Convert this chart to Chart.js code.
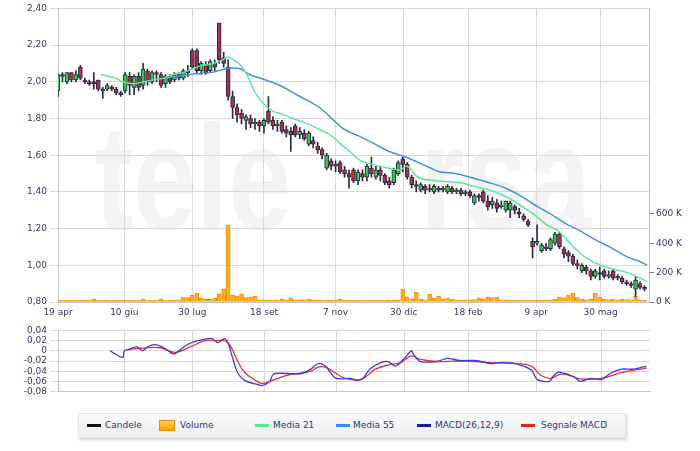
<!DOCTYPE html>
<html>
<head>
<meta charset="utf-8">
<script src="https://cdn.jsdelivr.net/npm/chart.js@4/dist/chart.umd.min.js"></script>
<style>
    body { margin: 0; background: #fff; }
    #wrap { position: relative; width: 700px; height: 451px; overflow: hidden; font-family: "DejaVu Sans", Verdana, sans-serif; }
    #main { position: absolute; left: 0; top: 0; }
    #macd { position: absolute; left: 0; top: 322px; }
    .legend { position: absolute; left: 78px; top: 413px; width: 546px; height: 23px;
        background: linear-gradient(#f9fafb, #eceef1); border: 1px solid #e2e4e8;
        box-shadow: 1px 2px 3px rgba(0,0,0,0.18); }
    .item { position: absolute; top: 0; height: 23px; line-height: 23px; font-size: 9px; color: #33337a; white-space: nowrap; }
    .sw { position: absolute; top: 10px; width: 14px; height: 3px; }
    .vol { position: absolute; top: 6px; width: 16px; height: 11px; background: linear-gradient(#ffd650, #ffa000); border: 1px solid #e89000; box-sizing: border-box; }
</style>
</head>
<body>
<div id="wrap">
    <canvas id="main" width="700" height="322"></canvas>
    <canvas id="macd" width="700" height="78"></canvas>
    <div class="legend">
        <span class="sw" style="left:8px;background:#111;"></span><span class="item" style="left:26px;">Candele</span>
        <span class="vol" style="left:80px;"></span><span class="item" style="left:101px;">Volume</span>
        <span class="sw" style="left:176px;background:#55e89a;"></span><span class="item" style="left:194px;">Media 21</span>
        <span class="sw" style="left:257px;background:#3d8ee0;"></span><span class="item" style="left:274px;">Media 55</span>
        <span class="sw" style="left:338px;background:#1a1aa0;"></span><span class="item" style="left:356px;">MACD(26,12,9)</span>
        <span class="sw" style="left:442px;background:#dd2222;"></span><span class="item" style="left:462px;">Segnale MACD</span>
    </div>
</div>
<script>
// ---- x axis (trading days from 19 apr) ----
const tickDay = [0, 37, 75, 115, 155, 193, 229, 267, 303];
const tickLabel = ['19 apr', '10 giu', '30 lug', '18 set', '7 nov', '30 dic', '18 feb', '9 apr', '30 mag'];
const candleStep = 2.5;

// ---- candles ----
const open = [
    1.95, 2.04, 2.00, 2.05, 2.01, 2.08, 2.01, 2.00, 2.00, 2.01,
    1.96, 1.96, 1.97, 1.96, 1.94, 1.95, 2.03, 1.97, 2.03, 1.98,
    2.06, 2.00, 2.05, 2.04, 1.99, 2.02, 2.01, 2.04, 2.02, 2.06,
    2.17, 2.17, 2.06, 2.09, 2.06, 2.10, 2.32, 2.13, 2.08, 1.92,
    1.86, 1.83, 1.79, 1.80, 1.77, 1.78, 1.76, 1.84, 1.79, 1.76,
    1.78, 1.74, 1.73, 1.76, 1.71, 1.72, 1.66, 1.68, 1.65, 1.63,
    1.53, 1.57, 1.54, 1.56, 1.52, 1.50, 1.52, 1.46, 1.50, 1.48,
    1.53, 1.48, 1.52, 1.49, 1.46, 1.45, 1.50, 1.58, 1.55, 1.48,
    1.44, 1.41, 1.43, 1.41, 1.40, 1.42, 1.41, 1.40, 1.42, 1.40,
    1.41, 1.39, 1.40, 1.34, 1.38, 1.40, 1.35, 1.33, 1.34, 1.32,
    1.30, 1.30, 1.32, 1.29, 1.27, 1.24, 1.13, 1.12, 1.08, 1.10,
    1.09, 1.12, 1.17, 1.09, 1.07, 1.05, 1.01, 0.97, 0.99, 0.97,
    0.94, 0.96, 0.97, 0.94, 0.97, 0.93, 0.93, 0.91, 0.90, 0.87,
    0.90, 0.88
];
const high = [
    2.04, 2.05, 2.05, 2.05, 2.06, 2.09, 2.02, 2.01, 2.05, 2.01,
    1.97, 1.99, 1.98, 1.97, 1.95, 2.05, 2.05, 2.04, 2.05, 2.10,
    2.07, 2.06, 2.06, 2.05, 2.04, 2.04, 2.05, 2.05, 2.07, 2.09,
    2.18, 2.18, 2.11, 2.11, 2.12, 2.12, 2.32, 2.16, 2.12, 1.95,
    1.88, 1.85, 1.82, 1.82, 1.80, 1.79, 1.80, 1.92, 1.81, 1.79,
    1.79, 1.76, 1.75, 1.77, 1.75, 1.74, 1.73, 1.70, 1.67, 1.64,
    1.61, 1.58, 1.57, 1.57, 1.54, 1.52, 1.53, 1.52, 1.52, 1.55,
    1.59, 1.54, 1.54, 1.50, 1.48, 1.53, 1.57, 1.59, 1.56, 1.49,
    1.46, 1.45, 1.44, 1.44, 1.44, 1.43, 1.43, 1.44, 1.43, 1.42,
    1.42, 1.41, 1.41, 1.39, 1.39, 1.41, 1.38, 1.37, 1.36, 1.35,
    1.35, 1.35, 1.33, 1.31, 1.28, 1.25, 1.15, 1.22, 1.12, 1.12,
    1.15, 1.18, 1.18, 1.10, 1.08, 1.06, 1.03, 1.01, 1.00, 0.98,
    0.98, 0.99, 0.98, 0.97, 0.98, 0.95, 0.94, 0.92, 0.91, 0.94,
    0.91, 0.89
];
const low = [
    1.92, 2.00, 1.99, 2.00, 2.00, 2.01, 1.99, 1.98, 1.96, 1.95,
    1.91, 1.95, 1.95, 1.93, 1.92, 1.94, 1.93, 1.93, 1.95, 1.96,
    1.98, 1.99, 2.00, 1.97, 1.97, 1.99, 2.00, 2.01, 2.01, 2.03,
    2.07, 2.05, 2.04, 2.04, 2.05, 2.06, 2.10, 2.08, 1.90, 1.80,
    1.78, 1.77, 1.74, 1.75, 1.74, 1.73, 1.72, 1.77, 1.74, 1.73,
    1.72, 1.70, 1.62, 1.70, 1.69, 1.68, 1.65, 1.64, 1.61, 1.58,
    1.52, 1.52, 1.51, 1.50, 1.48, 1.42, 1.45, 1.44, 1.46, 1.46,
    1.48, 1.47, 1.46, 1.44, 1.42, 1.44, 1.49, 1.51, 1.47, 1.42,
    1.40, 1.40, 1.39, 1.40, 1.39, 1.40, 1.40, 1.39, 1.39, 1.39,
    1.38, 1.38, 1.37, 1.33, 1.35, 1.34, 1.30, 1.31, 1.29, 1.31,
    1.29, 1.26, 1.28, 1.26, 1.24, 1.21, 1.04, 1.11, 1.07, 1.08,
    1.08, 1.11, 1.09, 1.04, 1.02, 1.00, 0.98, 0.96, 0.95, 0.92,
    0.93, 0.92, 0.93, 0.93, 0.92, 0.92, 0.90, 0.89, 0.88, 0.83,
    0.87, 0.86
];
const close = [
    2.04, 2.03, 2.05, 2.01, 2.04, 2.02, 2.00, 1.99, 1.99, 1.96,
    1.95, 1.98, 1.96, 1.94, 1.93, 2.04, 1.98, 2.03, 1.97, 2.07,
    2.00, 2.05, 2.04, 1.98, 2.03, 2.00, 2.04, 2.02, 2.06, 2.05,
    2.08, 2.06, 2.10, 2.05, 2.11, 2.08, 2.12, 2.10, 1.92, 1.86,
    1.82, 1.80, 1.81, 1.77, 1.78, 1.76, 1.79, 1.78, 1.76, 1.77,
    1.73, 1.72, 1.71, 1.71, 1.73, 1.69, 1.72, 1.66, 1.63, 1.60,
    1.60, 1.54, 1.55, 1.51, 1.50, 1.48, 1.46, 1.51, 1.48, 1.54,
    1.50, 1.52, 1.49, 1.45, 1.44, 1.52, 1.56, 1.55, 1.48, 1.44,
    1.43, 1.44, 1.41, 1.42, 1.43, 1.41, 1.42, 1.43, 1.40, 1.41,
    1.39, 1.40, 1.38, 1.38, 1.37, 1.35, 1.32, 1.35, 1.31, 1.33,
    1.35, 1.34, 1.30, 1.28, 1.25, 1.22, 1.10, 1.13, 1.11, 1.09,
    1.14, 1.17, 1.10, 1.06, 1.05, 1.01, 1.00, 1.00, 0.97, 0.94,
    0.97, 0.95, 0.94, 0.95, 0.93, 0.94, 0.91, 0.90, 0.89, 0.92,
    0.88, 0.87
];
// volume, thousands
const volume = [
    12, 12, 12, 12, 12, 12, 12, 12, 20, 12,
    12, 12, 12, 12, 12, 12, 12, 12, 12, 20,
    12, 12, 12, 22, 12, 12, 12, 15, 34, 30,
    45, 60, 25, 20, 18, 25, 55, 90, 522, 45,
    40, 55, 30, 35, 40, 15, 15, 15, 15, 15,
    22, 15, 28, 14, 14, 14, 22, 14, 14, 14,
    14, 14, 14, 20, 14, 14, 12, 12, 12, 12,
    12, 12, 12, 12, 14, 14, 15, 88, 35, 22,
    68, 20, 15, 54, 25, 40, 18, 28, 20, 14,
    14, 14, 14, 16, 28, 22, 34, 30, 34, 13,
    13, 13, 13, 13, 13, 13, 13, 13, 13, 14,
    14, 20, 34, 28, 48, 61, 30, 20, 14, 22,
    61, 34, 20, 16, 18, 15, 20, 16, 15, 40,
    14, 14
];

// ---- moving averages ----
const ma21Day = [24, 32, 36, 42, 48, 53, 59, 64, 70, 75, 81, 87, 92, 95, 98, 102, 106, 109, 113, 117,
    120, 126, 131, 137, 142, 146, 152, 158, 163, 169, 176, 184, 191, 195, 201, 212, 225, 232, 241, 251,
    256, 264, 268, 273, 279, 284, 290, 295, 303, 310, 318, 325, 329];
const ma21 = [2.04, 2.02, 2.00, 1.99, 2.00, 2.01, 2.02, 2.04, 2.05, 2.07, 2.09, 2.10, 2.12, 2.135, 2.12, 2.09, 2.03, 1.96, 1.90, 1.86,
    1.84, 1.82, 1.80, 1.78, 1.76, 1.74, 1.71, 1.66, 1.62, 1.57, 1.55, 1.53, 1.52, 1.54, 1.48, 1.46, 1.45, 1.43, 1.41, 1.37,
    1.34, 1.29, 1.26, 1.22, 1.19, 1.14, 1.08, 1.04, 1.00, 0.98, 0.96, 0.93, 0.91];
const ma55Day = [61, 74, 85, 93, 97, 102, 107, 116, 124, 135, 146, 155, 160, 169, 177, 185, 194, 199, 208, 213,
    222, 230, 241, 250, 258, 266, 275, 283, 291, 300, 308, 317, 325, 329];
const ma55 = [2.02, 2.04, 2.05, 2.07, 2.075, 2.07, 2.04, 2.01, 1.98, 1.92, 1.86, 1.78, 1.74, 1.70, 1.66, 1.62, 1.59, 1.57, 1.53, 1.51,
    1.50, 1.48, 1.45, 1.42, 1.38, 1.33, 1.28, 1.23, 1.19, 1.14, 1.10, 1.05, 1.02, 1.00];

// ---- MACD ----
const macdDay = [29, 36, 37, 40, 44, 47, 50, 54, 59, 63, 65, 71, 76, 82, 86, 89, 93, 95, 97, 100,
    104, 110, 114, 118, 120, 124, 130, 135, 141, 145, 149, 154, 157, 163, 167, 170, 174, 180, 184, 188,
    193, 197, 198, 202, 211, 217, 224, 233, 241, 247, 255, 264, 267, 274, 276, 279, 282, 288, 291, 297,
    303, 308, 314, 321, 328];
const macd = [0.000, -0.013, 0.000, 0.003, 0.008, 0.000, 0.008, 0.012, 0.006, -0.004, -0.006, 0.010, 0.018, 0.023, 0.024, 0.016, 0.024, 0.014, -0.010, -0.042,
    -0.058, -0.065, -0.068, -0.060, -0.046, -0.044, -0.045, -0.045, -0.036, -0.025, -0.030, -0.052, -0.055, -0.054, -0.058, -0.054, -0.035, -0.023, -0.021, -0.030,
    -0.015, 0.000, -0.006, -0.021, -0.021, -0.015, -0.019, -0.019, -0.025, -0.023, -0.025, -0.038, -0.056, -0.060, -0.050, -0.042, -0.044, -0.052, -0.060, -0.054,
    -0.056, -0.044, -0.036, -0.036, -0.030];
const signalDay = [39, 46, 57, 65, 74, 82, 88, 93, 96, 100, 104, 110, 114, 118, 124, 130, 135, 141, 145, 149,
    154, 160, 169, 177, 185, 191, 197, 202, 211, 224, 241, 255, 264, 269, 275, 280, 286, 291, 303, 314, 328];
const signal = [0.003, 0.005, 0.006, -0.003, 0.008, 0.020, 0.020, 0.020, 0.010, -0.019, -0.042, -0.058, -0.064, -0.060, -0.052, -0.046, -0.044, -0.040, -0.032, -0.032,
    -0.042, -0.054, -0.056, -0.036, -0.027, -0.023, -0.010, -0.017, -0.021, -0.020, -0.023, -0.025, -0.030, -0.048, -0.054, -0.046, -0.049, -0.055, -0.054, -0.043, -0.034];

const FONT = '"DejaVu Sans", Verdana, sans-serif';
const LABEL = '#35356b';
const GRID = '#d9d9d9';
const EDGE = '#c6c6c6';
Chart.defaults.font.family = FONT;
Chart.defaults.font.size = 9;
Chart.defaults.color = LABEL;

const pts = (days, vals) => days.map((d, i) => ({ x: d, y: vals[i] }));
const comma = v => Math.abs(v) < 1e-9 ? '0' : v.toFixed(2).replace('.', ',');

// faint "teleborsa" watermark behind the plot
const watermark = {
    id: 'watermark',
    beforeDraw(chart) {
        const ctx = chart.ctx;
        ctx.save();
        ctx.fillStyle = '#f3f3f3';
        ctx.font = 'bold 150px "Liberation Sans", Arial, sans-serif';
        ctx.textBaseline = 'alphabetic';
        ctx.translate(95, 230);
        ctx.scale(0.76, 1);
        ctx.fillText('tele', 0, 0);
        ctx.restore();
        ctx.save();
        ctx.fillStyle = '#f3f3f3';
        ctx.font = 'bold 150px "Liberation Sans", Arial, sans-serif';
        ctx.translate(420, 230);
        ctx.scale(0.76, 1);
        ctx.fillText('rsa', 0, 0);
        ctx.restore();
    }
};

const candleX = i => i * candleStep;

new Chart(document.getElementById('main'), {
    type: 'bar',
    data: {
        datasets: [
            {
                type: 'line', label: 'Media 21', data: pts(ma21Day, ma21),
                borderColor: '#5ce69c', borderWidth: 1.5, pointRadius: 0, tension: 0.4, yAxisID: 'y', order: 0
            },
            {
                type: 'line', label: 'Media 55', data: pts(ma55Day, ma55),
                borderColor: '#4a90e2', borderWidth: 1.5, pointRadius: 0, tension: 0.4, yAxisID: 'y', order: 0
            },
            {
                label: 'Candele', data: open.map((o, i) => ({ x: candleX(i), y: [o, close[i]] })),
                backgroundColor: open.map((o, i) => close[i] >= o ? '#2fc84a' : '#a3304f'),
                borderColor: '#2b2b40', borderWidth: 1, borderSkipped: false,
                barThickness: 4, grouped: false, yAxisID: 'y', order: 1
            },
            {
                label: 'wick', data: low.map((l, i) => ({ x: candleX(i), y: [l, high[i]] })),
                backgroundColor: '#2b2b40', barThickness: 1, grouped: false, yAxisID: 'y', order: 2
            },
            {
                label: 'Volume', data: volume.map((v, i) => ({ x: candleX(i), y: v })),
                backgroundColor: '#ffb020', borderColor: '#f29400', borderWidth: 1, borderSkipped: false,
                barThickness: 4, grouped: false, yAxisID: 'yv', order: 3
            }
        ]
    },
    options: {
        responsive: false,
        animation: false,
        layout: { padding: { top: 7, left: 0, right: 0, bottom: 0 } },
        plugins: { legend: { display: false }, tooltip: { enabled: false } },
        scales: {
            x: {
                type: 'linear', min: 0, max: 330, offset: false,
                afterBuildTicks: s => { s.ticks = tickDay.map(v => ({ value: v })); },
                afterFit: s => { s.height = 20; },
                ticks: { callback: (v, i) => tickLabel[i], autoSkip: false, maxRotation: 0, padding: 1, color: LABEL },
                grid: { color: GRID, tickLength: 4, offset: false },
                border: { color: EDGE }
            },
            y: {
                position: 'left', min: 0.8, max: 2.4,
                afterFit: s => { s.width = 58; },
                ticks: { stepSize: 0.2, autoSkip: false, callback: v => comma(v), padding: 3, color: LABEL },
                grid: { color: GRID, tickLength: 8 },
                border: { color: EDGE }
            },
            yv: {
                position: 'right', min: 0, max: 2000,
                afterFit: s => { s.width = 51; },
                ticks: { stepSize: 200, autoSkip: false, callback: v => v <= 600 ? v + ' K' : null, padding: 2, color: LABEL },
                grid: { drawOnChartArea: false, color: '#777', tickLength: 5 },
                border: { color: EDGE }
            }
        }
    },
    plugins: [watermark]
});

new Chart(document.getElementById('macd'), {
    type: 'line',
    data: {
        datasets: [
            {
                label: 'MACD(26,12,9)', data: pts(macdDay, macd),
                borderColor: '#3a3ae8', borderWidth: 1.3, pointRadius: 0, tension: 0.3, order: 0
            },
            {
                label: 'Segnale MACD', data: pts(signalDay, signal),
                borderColor: '#ec3030', borderWidth: 1.3, pointRadius: 0, tension: 0.4, order: 1
            }
        ]
    },
    options: {
        responsive: false,
        animation: false,
        layout: { padding: { top: 6, left: 0, right: 50, bottom: 8 } },
        plugins: { legend: { display: false }, tooltip: { enabled: false } },
        scales: {
            x: {
                type: 'linear', min: 0, max: 330, offset: false,
                afterBuildTicks: s => { s.ticks = tickDay.map(v => ({ value: v })); },
                afterFit: s => { s.height = 0; },
                ticks: { display: false },
                grid: { color: GRID, drawTicks: false },
                border: { color: EDGE }
            },
            y: {
                min: -0.08, max: 0.04,
                afterFit: s => { s.width = 58; },
                ticks: { stepSize: 0.02, autoSkip: false, callback: v => comma(v), padding: 3, color: LABEL },
                grid: { color: GRID, tickLength: 8 },
                border: { color: EDGE }
            }
        }
    }
});
</script>
</body>
</html>
